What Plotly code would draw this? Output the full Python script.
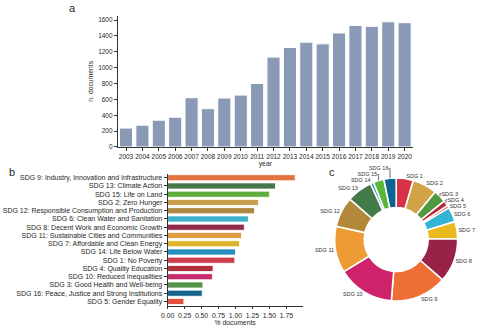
import colorsys
import plotly.graph_objects as go

# ---------------- data ----------------
years = [str(y) for y in range(2003, 2021)]
n_documents = [238, 275, 337, 375, 621, 483, 617, 654, 800, 1133, 1254, 1321,
               1300, 1437, 1533, 1521, 1578, 1567]

sdg_bar_labels = [
    "SDG 9: Industry, Innovation and Infrastructure",
    "SDG 13: Climate Action",
    "SDG 15: Life on Land",
    "SDG 2: Zero Hunger",
    "SDG 12: Responsible Consumption and Production",
    "SDG 6: Clean Water and Sanitation",
    "SDG 8: Decent Work and Economic Growth",
    "SDG 11: Sustainable Cities and Communities",
    "SDG 7: Affordable and Clean Energy",
    "SDG 14: Life Below Water",
    "SDG 1: No Poverty",
    "SDG 4: Quality Education",
    "SDG 10: Reduced Inequalities",
    "SDG 3: Good Health and Well-being",
    "SDG 16: Peace, Justice and Strong Institutions",
    "SDG 5: Gender Equality",
]
sdg_bar_ids = [9, 13, 15, 2, 12, 6, 8, 11, 7, 14, 1, 4, 10, 3, 16, 5]
pct_documents = [1.88, 1.59, 1.50, 1.34, 1.28, 1.19, 1.13, 1.09, 1.06, 1.00,
                 0.99, 0.67, 0.66, 0.52, 0.51, 0.24]

pie_labels = ["SDG %d" % i for i in range(1, 17)]
pie_values = [16, 23, 12, 5, 2.5, 14, 16, 41.5, 53, 53.5, 43.5, 28.5, 24, 3,
              10, 11.5]

# official SDG colours
sdg_colors = {
    1: "#E5243B", 2: "#DDA63A", 3: "#4C9F38", 4: "#C5192D", 5: "#FF3A21",
    6: "#26BDE2", 7: "#FCC30B", 8: "#A21942", 9: "#FD6925", 10: "#DD1367",
    11: "#FD9D24", 12: "#BF8B2E", 13: "#3F7E44", 14: "#0A97D9", 15: "#56C02B",
    16: "#00689D",
}


def desaturate(hex_color, prop):
    r, g, b = (int(hex_color[i:i + 2], 16) / 255 for i in (1, 3, 5))
    h, l, s = colorsys.rgb_to_hls(r, g, b)
    r, g, b = colorsys.hls_to_rgb(h, l, s * prop)
    return "#%02x%02x%02x" % (round(r * 255), round(g * 255), round(b * 255))


bar_colors = [desaturate(sdg_colors[i], 0.75) for i in sdg_bar_ids]
pie_colors = [desaturate(sdg_colors[i], 0.85) for i in range(1, 17)]

W, H = 480, 328
FONT = "Liberation Sans, Arial, sans-serif"
TXT = "#262626"


def px(x):
    return x / W


def py(y):
    return 1 - y / H


fig = go.Figure()

# ---------- panel a ----------
fig.add_trace(go.Bar(
    x=years, y=n_documents, xaxis="x", yaxis="y",
    marker=dict(color="#8a99b5", line=dict(color="white", width=1)),
    width=0.8, showlegend=False,
))

# ---------- panel b ----------
fig.add_trace(go.Bar(
    x=pct_documents, y=sdg_bar_labels, orientation="h", xaxis="x2", yaxis="y2",
    marker=dict(color=bar_colors, line=dict(color="white", width=0.8)),
    width=0.74, showlegend=False,
))

# ---------- panel c ----------
cx, cy, r = 395.8, 241.7, 62.5
fig.add_trace(go.Pie(
    labels=pie_labels, values=pie_values, sort=False, direction="clockwise",
    rotation=0, hole=0.52,
    marker=dict(colors=pie_colors, line=dict(color="white", width=1.6)),
    textinfo="label", textposition="outside",
    textfont=dict(size=5.5, color="#333333", family=FONT),
    domain=dict(x=[px(cx - r), px(cx + r)], y=[py(cy + r), py(cy - r)]),
    showlegend=False,
))

axis_common = dict(
    showline=True, linecolor="#333333", linewidth=0.8,
    ticks="outside", ticklen=3, tickwidth=0.8, tickcolor="#333333",
    showgrid=False, zeroline=False, tickangle=0,
)


def tf(size):
    return dict(size=size, color=TXT, family=FONT)


def panel_label(text, x, y):
    return dict(text=text, x=px(x), y=py(y), xref="paper", yref="paper",
                xanchor="center", yanchor="middle", showarrow=False,
                font=tf(11))


fig.update_layout(
    width=W, height=H,
    margin=dict(l=0, r=0, t=0, b=0),
    paper_bgcolor="white", plot_bgcolor="white",
    font=dict(family=FONT, color=TXT),
    bargap=0.2,
    xaxis=dict(
        **axis_common, tickfont=tf(6.5), domain=[px(112.7), px(412.7)],
        anchor="y", type="category", range=[-0.5, 17.5],
        title=dict(text="year", font=tf(6.8), standoff=1),
    ),
    yaxis=dict(
        **axis_common, tickfont=tf(6.5), domain=[py(148.3), py(15.7)],
        anchor="x", range=[0, 1657], tickvals=list(range(0, 1601, 200)),
        title=dict(text="n. documents", font=tf(6.8), standoff=3),
    ),
    xaxis2=dict(
        **axis_common, tickfont=tf(6.8), domain=[px(163.3), px(300.7)],
        anchor="y2", range=[0, 1.99],
        tickvals=[0, 0.25, 0.5, 0.75, 1.0, 1.25, 1.5, 1.75],
        ticktext=["0.00", "0.25", "0.50", "0.75", "1.00", "1.25", "1.50", "1.75"],
        title=dict(text="% documents", font=tf(6.8), standoff=1),
    ),
    yaxis2=dict(
        **axis_common, tickfont=tf(7), domain=[py(308.4), py(175.2)],
        anchor="x2", type="category", range=[15.5, -0.5],
    ),
    annotations=[
        panel_label("a", 67, 8),
        panel_label("b", 5.5, 173.5),
        panel_label("c", 331, 173.5),
    ],
)

fig.write_html("out.html")
